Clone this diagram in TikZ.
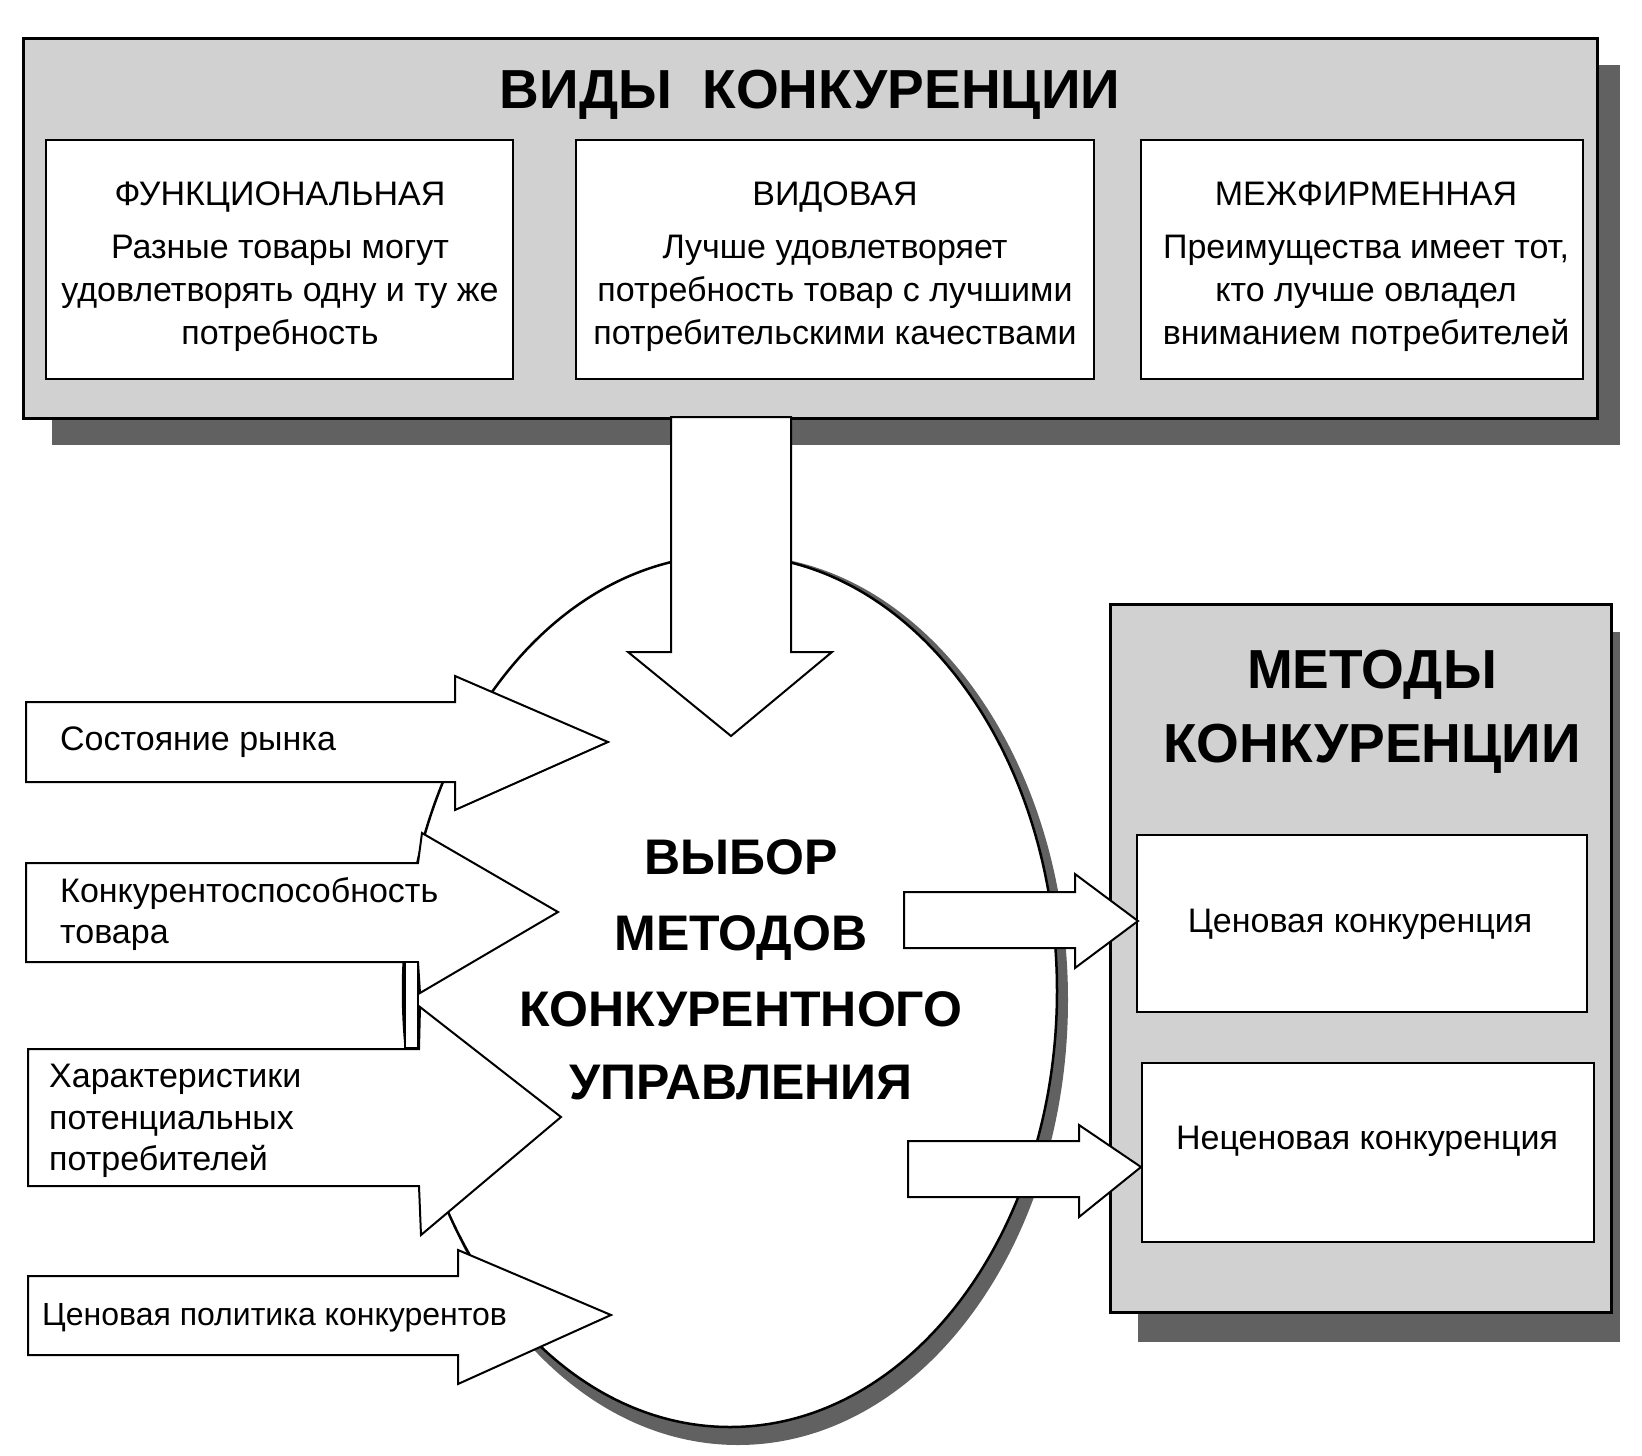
\documentclass[tikz,border=0pt]{standalone}
\usepackage{fontspec}
\setmainfont{Liberation Sans}
\definecolor{boxfill}{gray}{0.82}
\definecolor{shadowfill}{gray}{0.38}
\begin{document}
\begin{tikzpicture}[x=1pt,y=-1pt,
  outerbox/.style={draw=black, line width=3pt, fill=boxfill},
  shadowbox/.style={fill=shadowfill, draw=none},
  innerbox/.style={draw=black, line width=2pt, fill=white},
  blockarrow/.style={draw=black, line width=2pt, fill=white, line join=miter},
  txt/.style={font=\fontsize{34}{40}\selectfont, anchor=base, inner sep=0pt},
  txtl/.style={txt, anchor=base west},
  bigtitle/.style={font=\bfseries\fontsize{55}{62}\selectfont, anchor=base, inner sep=0pt},
  elltitle/.style={font=\bfseries\fontsize{50}{58}\selectfont, anchor=base, inner sep=0pt}]
\useasboundingbox (0,0) rectangle (1642,1456);
\fill[white] (0,0) rectangle (1642,1456);

% ---- top box: types of competition
\fill[shadowbox] (52,65) rectangle (1620,445);
\draw[outerbox] (23,38) rectangle (1597,418);
\draw[innerbox] (46,140) rectangle (513,379);
\draw[innerbox] (576,140) rectangle (1094,379);
\draw[innerbox] (1141,140) rectangle (1583,379);
\node[bigtitle] (vidy) at (810,108) {ВИДЫ\ \ КОНКУРЕНЦИИ};

\node[txt] (f0) at (280,205) {ФУНКЦИОНАЛЬНАЯ};
\node[txt] (f1) at (280,258) {Разные товары могут};
\node[txt] (f2) at (280,301) {удовлетворять одну и ту же};
\node[txt] (f3) at (280,344) {потребность};

\node[txt] (v0) at (835,205) {ВИДОВАЯ};
\node[txt] (v1) at (835,258) {Лучше удовлетворяет};
\node[txt] (v2) at (835,301) {потребность товар с лучшими};
\node[txt] (v3) at (835,344) {потребительскими качествами};

\node[txt] (m0) at (1366,205) {МЕЖФИРМЕННАЯ};
\node[txt] (m1) at (1366,258) {Преимущества имеет тот,};
\node[txt] (m2) at (1366,301) {кто лучше овладел};
\node[txt] (m3) at (1366,344) {вниманием потребителей};

% ---- right box: methods of competition
\fill[shadowbox] (1138,632) rectangle (1620,1342);
\draw[outerbox] (1110,604) rectangle (1611,1312);
\draw[innerbox] (1137,835) rectangle (1587,1012);
\draw[innerbox] (1142,1063) rectangle (1594,1242);
\node[bigtitle] (met1) at (1372,688) {МЕТОДЫ};
\node[bigtitle] (met2) at (1372,762) {КОНКУРЕНЦИИ};
\node[txt] (cen) at (1360,932) {Ценовая конкуренция};
\node[txt] (necen) at (1367,1149) {Неценовая конкуренция};

% ---- central ellipse
\fill[shadowfill] (738,1000) ellipse [x radius=330, y radius=445];
\draw[line width=2.5pt, fill=white] (730,991) ellipse [x radius=327, y radius=436];

% ---- down arrow from top box
\draw[blockarrow] (671,417) -- (791,417) -- (791,652) -- (832,652) -- (731,736) -- (628,652) -- (671,652) -- cycle;

% ---- left input arrows
\draw[blockarrow] (26,702) -- (455,702) -- (455,676) -- (608,742) -- (455,810) -- (455,782) -- (26,782) -- cycle;
\draw[blockarrow] (26,863) -- (418,863) -- (422,833) -- (558,912) -- (420,993) -- (418,962) -- (26,962) -- cycle;
\draw[blockarrow] (28,1049) -- (419,1049) -- (420,1007) -- (561,1117) -- (421,1235) -- (419,1186) -- (28,1186) -- cycle;
\draw[blockarrow] (405,962) rectangle (418,1048);
\draw[blockarrow] (28,1276) -- (458,1276) -- (458,1250) -- (611,1315) -- (458,1384) -- (458,1355) -- (28,1355) -- cycle;

% ---- right output arrows
\draw[blockarrow] (904,892) -- (1075,892) -- (1075,874) -- (1138,921) -- (1075,968) -- (1075,948) -- (904,948) -- cycle;
\draw[blockarrow] (908,1141) -- (1079,1141) -- (1079,1125) -- (1141,1167) -- (1079,1217) -- (1079,1197) -- (908,1197) -- cycle;

% ---- texts in arrows
\node[txtl] (a1) at (60,750) {Состояние рынка};
\node[txtl] (a2a) at (60,902) {Конкурентоспособность};
\node[txtl] (a2b) at (60,943) {товара};
\node[txtl] (a3a) at (49,1087) {Характеристики};
\node[txtl] (a3b) at (49,1129) {потенциальных};
\node[txtl] (a3c) at (49,1170) {потребителей};
\node[txtl, font=\fontsize{32}{38}\selectfont] (a4) at (42,1325) {Ценовая политика конкурентов};

% ---- ellipse text
\node[elltitle] (e1) at (741,874) {ВЫБОР};
\node[elltitle] (e2) at (741,950) {МЕТОДОВ};
\node[elltitle] (e3) at (741,1026) {КОНКУРЕНТНОГО};
\node[elltitle] (e4) at (741,1099) {УПРАВЛЕНИЯ};
\end{tikzpicture}
\end{document}
